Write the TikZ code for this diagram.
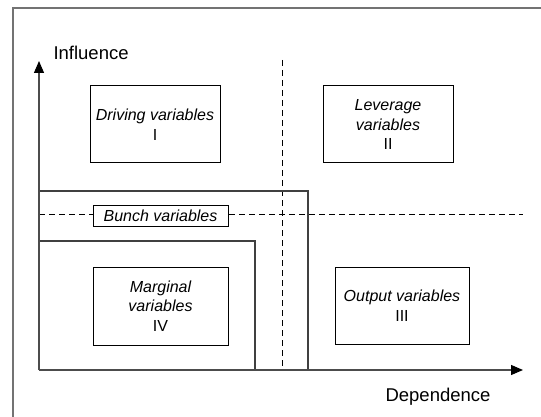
\documentclass[tikz,border=0pt]{standalone}
\usepackage{fontspec}
\setmainfont{Liberation Sans}
\usetikzlibrary{arrows.meta}

\tikzset{
  quadrant/.style={draw,line width=1pt,fill=white,align=center,
    font=\fontsize{16}{19.5}\selectfont\itshape,inner sep=0pt},
  axislabel/.style={font=\fontsize{18.5}{22}\selectfont},
  split/.style={line width=1pt,dash pattern=on 6pt off 4pt},
  axis/.style={line width=1.1pt,draw=black!70,
    -{Triangle[length=12pt,width=10pt,fill=black,color=black]}}
}

\begin{document}
\begin{tikzpicture}[x=1pt,y=-1pt]
            \useasboundingbox (0,0) rectangle (541,417);
            % open frame
            \draw [black!55,line width=1.2pt] (13,417) -- (13,8) -- (541,8);

            % quadrant limits
            \draw [split] (282,60) -- (282,370);
            \draw [split] (39,214) -- (523,214);

            % zones of the bunch and marginal variables
            \draw [line width=1.1pt,black!75] (39,191) -- (308,191) -- (308,370);
            \draw [line width=1.1pt,black!75] (39,241) -- (255,241) -- (255,370);

            \coordinate (origin) at (39,370);
            \draw [axis] (origin) -- (39,61);
            \draw [axis] (origin) -- (523,370);
            \node [axislabel,anchor=west] (influence) at (50,53) {Influence};
            \node [axislabel] (dependence) at (438,397) {Dependence};

            \node [quadrant,minimum width=130pt,minimum height=77pt]
               (driving) at (155,124.5) {Driving variables\\\textup{I}};
            \node [quadrant,minimum width=130pt,minimum height=77pt]
               (leverage) at (388,124.5) {Leverage\\variables\\\textup{II}};
            \node [quadrant,minimum width=135pt,minimum height=21pt]
               (bunch) at (160.5,215.5) {Bunch variables};
            \node [quadrant,minimum width=135pt,minimum height=78pt]
               (marginal) at (160.5,306) {Marginal\\variables\\\textup{IV}};
            \node [quadrant,minimum width=134pt,minimum height=77pt]
               (output) at (402,305.5) {Output variables\\\textup{III}};
\end{tikzpicture}
\end{document}
